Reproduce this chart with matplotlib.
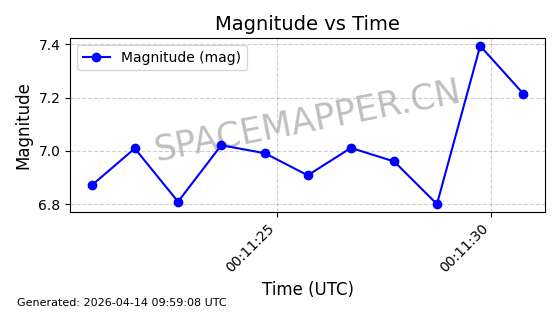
import matplotlib
matplotlib.use("Agg")
import matplotlib.pyplot as plt
import matplotlib.dates as mdates
import datetime as dt

seconds = [20.67, 21.68, 22.69, 23.70, 24.72, 25.72, 26.73, 27.74, 28.74, 29.75, 30.76]
magnitude = [6.870, 7.009, 6.809, 7.021, 6.991, 6.908, 7.011, 6.960, 6.800, 7.394, 7.214]
base = dt.datetime(2026, 4, 14, 0, 11, 0)
times = [base + dt.timedelta(seconds=s) for s in seconds]

fig = plt.figure(figsize=(5.6, 3.14), dpi=100)
ax = fig.add_axes([70/560, 1-212/314, (545-70)/560, (212-38)/314])
ax.plot(times, magnitude, 'o-', color='blue', label='Magnitude (mag)', markersize=6, linewidth=1.5, zorder=3)
ax.set_title('Magnitude vs Time', fontsize=14)
ax.set_xlabel('Time (UTC)', fontsize=12)
ax.set_ylabel('Magnitude', fontsize=12)
ax.grid(True, linestyle='--', alpha=0.6)
ax.legend(loc='upper left')
ax.xaxis.set_major_formatter(mdates.DateFormatter('%H:%M:%S'))
ax.xaxis.set_major_locator(mdates.SecondLocator(bysecond=[0, 5, 10, 15, 20, 25, 30, 35, 40, 45, 50, 55]))
plt.setp(ax.get_xticklabels(), rotation=45, ha='right')
ax.set_yticks([6.8, 7.0, 7.2, 7.4])
ax.text(0.549, 0.615, 'SPACEMAPPER.CN', fontsize=25, color='gray', alpha=0.5,
        rotation=11, ha='center', va='center', transform=fig.transFigure, zorder=1)
fig.text(0.03, 0.025, 'Generated: 2026-04-14 09:59:08 UTC', fontsize=8)
fig.savefig('out.png', dpi=100)
